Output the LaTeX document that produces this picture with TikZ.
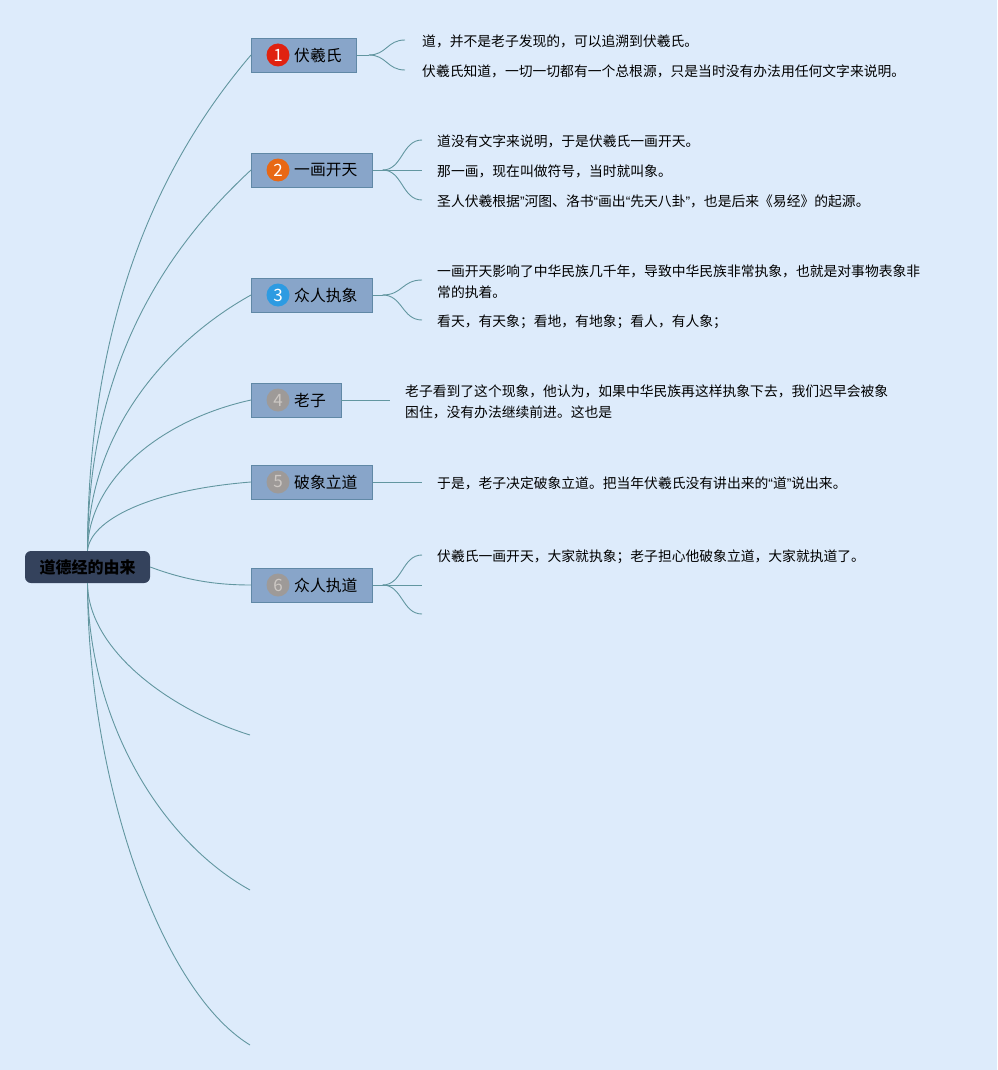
\documentclass[tikz,border=0pt]{standalone}
\usepackage{fontspec}
\setmainfont{Noto Sans CJK SC}
\newfontfamily\quotefont{Liberation Sans}
\usetikzlibrary{positioning}
\definecolor{bgblue}{RGB}{221,235,251}
\definecolor{rootcolor}{RGB}{52,66,92}
\definecolor{topiccolor}{RGB}{136,165,201}
\definecolor{topicborder}{RGB}{96,136,166}
\definecolor{linkcolor}{RGB}{98,150,160}
\definecolor{badgered}{RGB}{224,34,16}
\definecolor{badgeorange}{RGB}{232,104,20}
\definecolor{badgeblue}{RGB}{45,155,226}
\definecolor{badgegray}{RGB}{158,154,152}
\definecolor{badgetext}{RGB}{205,200,196}
\newcommand{\narrowq}[1]{{\quotefont #1}}

\begin{document}
\begin{tikzpicture}[
    x=1pt, y=-1pt,
    root/.style={rectangle, fill=rootcolor, rounded corners=6pt, minimum width=125pt, minimum height=32pt, font=\fontsize{16}{19}\selectfont\bfseries},
    topic/.style={rectangle, draw=topicborder, fill=topiccolor, anchor=west, minimum height=34pt, inner xsep=15pt, inner ysep=0pt, font=\fontsize{15.8}{19}\selectfont},
    badge/.style={circle, fill=#1, minimum size=23pt, inner sep=0pt, text=white, font=\fontsize{17}{17}\selectfont},
    leaf/.style={anchor=west, inner sep=0pt, align=left, yshift=-1.5pt, font=\fontsize{13.8}{21}\selectfont},
    link/.style={draw=linkcolor, line width=0.9pt}
]

% Background
\fill[bgblue] (0,0) rectangle (997,1070);
\useasboundingbox (0,0) rectangle (997,1070);

% Root
\node[root] (root) at (87.5,567) {道德经的由来};

% Topics
\node[topic] (t1) at (251,55) {\hspace*{28pt}伏羲氏};
\node[topic] (t2) at (251,170) {\hspace*{28pt}一画开天};
\node[topic] (t3) at (251,295) {\hspace*{28pt}众人执象};
\node[topic] (t4) at (251,400) {\hspace*{28pt}老子};
\node[topic] (t5) at (251,482) {\hspace*{28pt}破象立道};
\node[topic] (t6) at (251,585) {\hspace*{28pt}众人执道};

% Badges
\node[badge=badgered] (n1) at ([xshift=27pt]t1.west) {1};
\node[badge=badgeorange] (n2) at ([xshift=27pt]t2.west) {2};
\node[badge=badgeblue] (n3) at ([xshift=27pt]t3.west) {3};
\node[badge=badgegray, text=badgetext] (n4) at ([xshift=27pt]t4.west) {4};
\node[badge=badgegray, text=badgetext] (n5) at ([xshift=27pt]t5.west) {5};
\node[badge=badgegray, text=badgetext] (n6) at ([xshift=27pt]t6.west) {6};

% Root links
\draw[link] (root.north) .. controls (88,300) and (170,150) .. (t1.west);
\draw[link] (root.north) .. controls (88,360) and (170,245) .. (t2.west);
\draw[link] (root.north) .. controls (88,430) and (170,340) .. (t3.west);
\draw[link] (root.north) .. controls (88,480) and (160,420) .. (t4.west);
\draw[link] (root.north) .. controls (90,520) and (150,490) .. (t5.west);
\draw[link] (root.east) .. controls (185,580) and (215,585) .. (t6.west);

% Empty branches
\coordinate (b1) at (250,735);
\coordinate (b2) at (250,890);
\coordinate (b3) at (250,1045);
\draw[link] (root.south) .. controls (88,650) and (170,710) .. (b1);
\draw[link] (root.south) .. controls (88,720) and (160,840) .. (b2);
\draw[link] (root.south) .. controls (88,780) and (160,990) .. (b3);

% 伏羲氏
\coordinate (e11) at (405,40);
\coordinate (e12) at (405,70);
\draw[link] (t1.east) -- ++(12,0) coordinate (h1);
\foreach \e in {e11,e12}
    \draw[link] (h1) .. controls +(18,0) and +(-18,0) .. (\e);
\node[leaf, right=17pt of e11] (l11) {道，并不是老子发现的，可以追溯到伏羲氏。};
\node[leaf, right=17pt of e12] (l12) {伏羲氏知道，一切一切都有一个总根源，只是当时没有办法用任何文字来说明。};

% 一画开天
\coordinate (e21) at (422,140);
\coordinate (e22) at (422,170);
\coordinate (e23) at (422,200);
\draw[link] (t2.east) -- ++(10,0) coordinate (h2);
\foreach \e in {e21,e22,e23}
    \draw[link] (h2) .. controls +(20,0) and +(-20,0) .. (\e);
\node[leaf, right=15pt of e21] (l21) {道没有文字来说明，于是伏羲氏一画开天。};
\node[leaf, right=15pt of e22] (l22) {那一画，现在叫做符号，当时就叫象。};
\node[leaf, right=15pt of e23] (l23) {圣人伏羲根据\narrowq{”}河图、洛书\narrowq{“}画出\narrowq{“}先天八卦\narrowq{”}，也是后来《易经》的起源。};

% 众人执象
\coordinate (e31) at (422,280);
\coordinate (e32) at (422,320);
\draw[link] (t3.east) -- ++(10,0) coordinate (h3);
\foreach \e in {e31,e32}
    \draw[link] (h3) .. controls +(20,0) and +(-20,0) .. (\e);
\node[leaf, right=15pt of e31] (l31) {一画开天影响了中华民族几千年，导致中华民族非常执象，也就是对事物表象非\\常的执着。};
\node[leaf, right=15pt of e32] (l32) {看天，有天象；看地，有地象；看人，有人象；};

% 老子
\coordinate (e41) at (390,400);
\draw[link] (t4.east) -- (e41);
\node[leaf, right=15pt of e41] (l41) {老子看到了这个现象，他认为，如果中华民族再这样执象下去，我们迟早会被象\\困住，没有办法继续前进。这也是};

% 破象立道
\coordinate (e51) at (422,482);
\draw[link] (t5.east) -- (e51);
\node[leaf, right=15pt of e51] (l51) {于是，老子决定破象立道。把当年伏羲氏没有讲出来的\narrowq{“}道\narrowq{”}说出来。};

% 众人执道
\coordinate (e61) at (422,555);
\coordinate (e62) at (422,585);
\coordinate (e63) at (422,614);
\draw[link] (t6.east) -- ++(10,0) coordinate (h6);
\foreach \e in {e61,e62,e63}
    \draw[link] (h6) .. controls +(20,0) and +(-20,0) .. (\e);
\node[leaf, right=15pt of e61] (l61) {伏羲氏一画开天，大家就执象；老子担心他破象立道，大家就执道了。};

\end{tikzpicture}
\end{document}
